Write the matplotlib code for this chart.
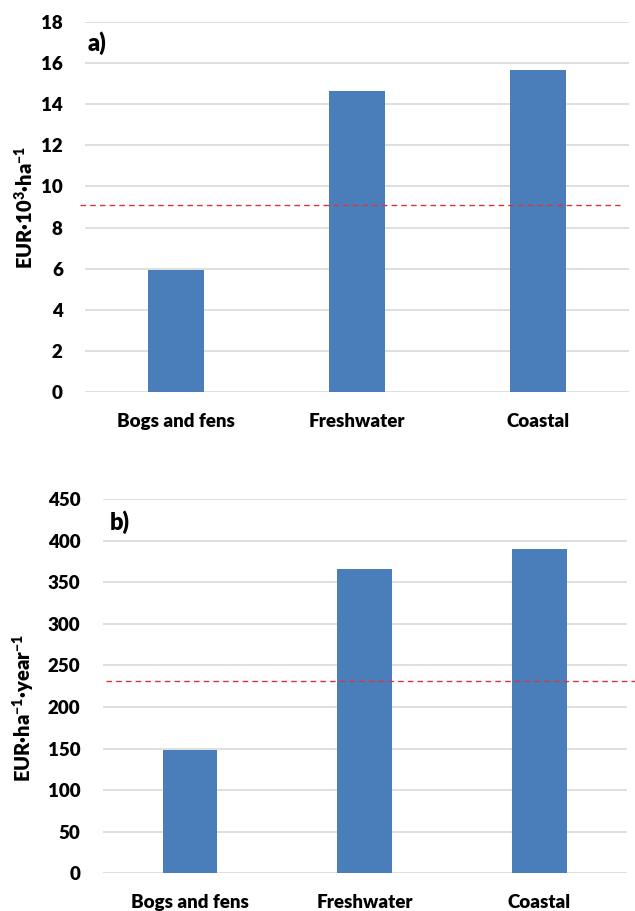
import matplotlib
matplotlib.use("Agg")
import matplotlib.pyplot as plt

plt.rcParams['font.family'] = ['Lato', 'DejaVu Sans']
plt.rcParams['font.weight'] = 'heavy'
plt.rcParams['mathtext.fontset'] = 'custom'
plt.rcParams['mathtext.rm'] = 'Lato:heavy'
plt.rcParams['mathtext.bf'] = 'Lato:heavy'
plt.rcParams['mathtext.default'] = 'bf'

# data
categories = ["Bogs and fens", "Freshwater", "Coastal"]
capital_values = [5.95, 14.65, 15.65]      # EUR 10^3 / ha
capital_mean = 9.1
annual_values = [148, 366, 390]            # EUR / ha / year
annual_mean = 231

bar_color = "#4a7ebb"
line_color = "#d6363c"
grid_color = "#d9d9d9"
W = 'heavy'

fig = plt.figure(figsize=(6.35, 9.11), dpi=100)
ax1 = fig.add_axes([0.134, 0.5697, 0.8566, 0.4062])
ax2 = fig.add_axes([0.1617, 0.0414, 0.8253, 0.4106])


def style_axis(ax, ymax, step, ylabel, label_xy, tag, tag_xy, xpad):
    x = range(len(categories))
    ax.set_xlim(-0.5, len(categories) - 0.5)
    ax.set_ylim(0, ymax)
    ax.set_yticks(range(0, ymax + 1, step))
    ax.set_xticks(list(x))
    ax.set_xticklabels(categories)
    for s in ax.spines.values():
        s.set_visible(False)
    ax.tick_params(axis='both', length=0, labelsize=13.5)
    ax.tick_params(axis='y', pad=16)
    ax.tick_params(axis='x', pad=xpad)
    for lab in ax.get_xticklabels() + ax.get_yticklabels():
        lab.set_fontweight(W)
    ax.yaxis.grid(True, color=grid_color, linewidth=1.2)
    ax.set_axisbelow(True)
    ax.set_ylabel(ylabel, fontsize=14.5, fontweight=W)
    ax.yaxis.set_label_coords(*label_xy)
    ax.text(tag_xy[0], tag_xy[1], tag, transform=ax.transAxes,
            fontsize=17, fontweight=W, va='center', ha='left')


ax1.bar(range(len(categories)), capital_values, width=0.31, color=bar_color, zorder=2)
ax1.axhline(capital_mean, xmin=-0.009, xmax=0.983, color=line_color,
            linestyle=(0, (4, 3)), linewidth=1.0, clip_on=False, zorder=3)
style_axis(ax1, 18, 2, r'EUR·10$^{3}$·ha$^{-1}$', (-0.09, 0.5), 'a)', (0.004, 0.943), 15)

ax2.bar(range(len(categories)), annual_values, width=0.313, color=bar_color, zorder=2)
ax2.axhline(annual_mean, xmin=0.006, xmax=1.016, color=line_color,
            linestyle=(0, (4, 3)), linewidth=1.0, clip_on=False, zorder=3)
style_axis(ax2, 450, 50, r'EUR·ha$^{-1}$·year$^{-1}$', (-0.125, 0.443), 'b)', (0.014, 0.94), 15)

fig.savefig("out.png", dpi=100, facecolor="white")
